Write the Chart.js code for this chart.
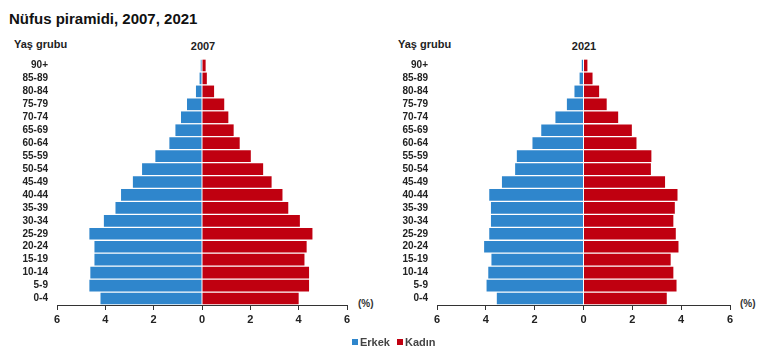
<!DOCTYPE html>
<html>
<head>
<meta charset="utf-8">
<script src="https://cdn.jsdelivr.net/npm/chart.js@4/dist/chart.umd.min.js"></script>
<style>
  html, body { margin:0; padding:0; background:#fff; }
  body { width:770px; height:356px; position:relative; overflow:hidden; font-family:"Liberation Sans", Arial, sans-serif; }
  .abs { position:absolute; white-space:nowrap; }
  #title { left:9px; top:10px; font-size:15px; font-weight:bold; color:#111; }
  .yg { font-size:11px; font-weight:bold; color:#222; }
  .yr { font-size:11px; font-weight:bold; color:#222; transform:translateX(-50%); }
  .pct { font-size:10px; font-weight:bold; color:#333; }
  .wrap { position:absolute; top:0; width:385px; height:356px; }
  #legend { left:352px; top:336px; font-size:11px; font-weight:bold; color:#444; }
  #legend span.sq { display:inline-block; width:6px; height:6px; margin-right:2px; vertical-align:1px; }
</style>
</head>
<body>
<div class="abs" id="title">Nüfus piramidi, 2007, 2021</div>
<div class="abs yg" style="left:14px; top:38px;">Yaş grubu</div>
<div class="abs yg" style="left:398px; top:38px;">Yaş grubu</div>
<div class="abs yr" style="left:203px; top:40px;">2007</div>
<div class="abs yr" style="left:584px; top:40px;">2021</div>
<div class="abs pct" style="left:358px; top:298px;">(%)</div>
<div class="abs pct" style="left:740px; top:298px;">(%)</div>
<div class="wrap" style="left:0px;"><canvas id="c1"></canvas></div>
<div class="wrap" style="left:380px;"><canvas id="c2"></canvas></div>
<div class="abs" id="legend"><span class="sq" style="background:#2f86cc"></span>Erkek <span class="sq" style="background:#c00010;margin-left:4px"></span>Kadın</div>
<script>
const categories = ["90+","85-89","80-84","75-79","70-74","65-69","60-64","55-59","50-54","45-49","40-44","35-39","30-34","25-29","20-24","15-19","10-14","5-9","0-4"];
const male2007   = [0.05,0.10,0.25,0.62,0.87,1.10,1.35,1.93,2.48,2.86,3.35,3.58,4.06,4.66,4.45,4.45,4.62,4.66,4.20];
const female2007 = [0.15,0.20,0.50,0.92,1.09,1.31,1.56,2.02,2.53,2.88,3.33,3.57,4.05,4.57,4.33,4.24,4.43,4.43,4.00];
const male2021   = [0.07,0.16,0.37,0.68,1.15,1.73,2.09,2.73,2.80,3.34,3.86,3.79,3.79,3.86,4.07,3.77,3.90,3.97,3.55];
const female2021 = [0.16,0.37,0.64,0.95,1.42,1.98,2.17,2.78,2.76,3.34,3.85,3.74,3.68,3.78,3.89,3.57,3.68,3.81,3.41];
const seriesNames = ["Erkek","Kadın"];
const tickValues = [-6,-4,-2,0,2,4,6];

function makeChart(id, male, female, padRight) {
  return new Chart(document.getElementById(id), {
    type: 'bar',
    data: {
      labels: categories,
      datasets: [
        { label: seriesNames[0], data: male.map(v => -v), backgroundColor: '#2f86cc', barPercentage: 0.9, categoryPercentage: 1.0 },
        { label: seriesNames[1], data: female, backgroundColor: '#c00010', barPercentage: 0.9, categoryPercentage: 1.0 }
      ]
    },
    options: {
      indexAxis: 'y',
      responsive: true,
      maintainAspectRatio: false,
      animation: false,
      layout: { padding: { top: 59, right: padRight, bottom: 30, left: 0 } },
      plugins: { legend: { display: false }, tooltip: { enabled: false } },
      scales: {
        y: {
          stacked: true,
          grid: { display: false, drawTicks: false },
          border: { display: false },
          ticks: { autoSkip: false, color: '#222', font: { family: 'Liberation Sans', size: 10, weight: 'bold' }, padding: 9 },
          afterFit: s => { s.width = 57; }
        },
        x: {
          stacked: true,
          min: -6, max: 6,
          afterBuildTicks: s => { s.ticks = tickValues.map(v => ({ value: v })); },
          grid: { drawOnChartArea: false, drawTicks: true, tickLength: 5, color: '#333' },
          border: { display: true, color: '#333', width: 1 },
          ticks: { color: '#222', font: { family: 'Liberation Sans Narrow, Liberation Sans', size: 11, weight: 'bold' }, padding: 3, callback: v => Math.abs(v) },
          afterFit: s => { s.height = 21; }
        }
      }
    }
  });
}
makeChart('c1', male2007, female2007, 38);
makeChart('c2', male2021, female2021, 35);
</script>
</body>
</html>
